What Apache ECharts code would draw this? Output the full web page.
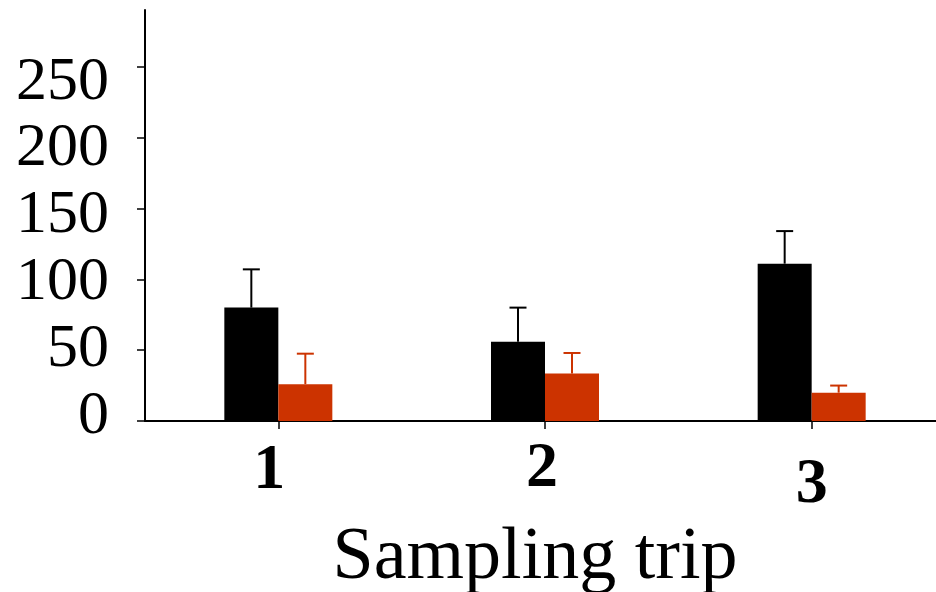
<!DOCTYPE html>
<html>
<head>
<meta charset="utf-8">
<script src="https://cdn.jsdelivr.net/npm/echarts@6/dist/echarts.min.js"></script>
<style>
html,body{margin:0;padding:0;background:#fff;}
#chart{width:936px;height:592px;}
</style>
</head>
<body>
<div id="chart"></div>
<script>
var categories = ['1', '2', '3'];
var blackMeans = [80, 56, 111];
var blackErrors = [27, 24, 23];
var redMeans = [26, 33.5, 20];
var redErrors = [21.5, 14.5, 5];
var yTickValues = [0, 50, 100, 150, 200, 250];
var xAxisTitle = 'Sampling trip';

var BLACK = '#000000';
var RED = '#CC3300';
var FONT = '"Liberation Serif", "Times New Roman", serif';
var BAR_W = 54;

// small per-label nudges to follow the hand-placed labels of the original
var yLabelPad = {
  y0: [0, 0, 9, 0], y1: [0, 0, 1, 0], y2: [7, 0, 0, 0],
  y3: [15, 0, 0, 0], y4: [23, 0, 0, 0], y5: [32, 0, 0, 0]
};
var xLabelPad = { x0: [2, 18, 0, 0], x1: [0, 6, 0, 0], x2: [16, 0, 0, 0] };

var yRich = {};
Object.keys(yLabelPad).forEach(function (k) {
  yRich[k] = { fontFamily: FONT, fontSize: 62, color: '#000', padding: yLabelPad[k] };
});
var xRich = {};
Object.keys(xLabelPad).forEach(function (k) {
  xRich[k] = { fontFamily: FONT, fontSize: 64, fontWeight: 'bold', color: '#000', padding: xLabelPad[k] };
});

function errorSeries(means, errs, color, dx) {
  return {
    type: 'custom',
    z: 5,
    data: means.map(function (m, i) { return [i, m, m + errs[i]]; }),
    renderItem: function (params, api) {
      var lo = api.coord([api.value(0), api.value(1)]);
      var hi = api.coord([api.value(0), api.value(2)]);
      var x = lo[0] + dx;
      var cap = 8.5;
      return {
        type: 'group',
        children: [
          { type: 'line', shape: { x1: x, y1: lo[1], x2: x, y2: hi[1] },
            style: { stroke: color, lineWidth: 2 } },
          { type: 'line', shape: { x1: x - cap, y1: hi[1], x2: x + cap, y2: hi[1] },
            style: { stroke: color, lineWidth: 2 } }
        ]
      };
    }
  };
}

var chart = echarts.init(document.getElementById('chart'));
chart.setOption({
  animation: false,
  backgroundColor: '#fff',
  grid: { left: 145, top: 10, width: 800, bottom: 171, containLabel: false, outerBoundsMode: 'none' },
  xAxis: {
    type: 'category',
    data: categories,
    boundaryGap: true,
    axisLine: { show: true, lineStyle: { color: '#000', width: 2 } },
    axisTick: { show: true, alignWithLabel: true, length: 8, lineStyle: { color: '#000', width: 1.5 } },
    axisLabel: {
      margin: 16,
      formatter: function (v, i) { return '{x' + i + '|' + v + '}'; },
      rich: xRich
    },
    name: xAxisTitle,
    nameLocation: 'middle',
    nameGap: 94,
    nameTextStyle: { fontFamily: FONT, fontSize: 74, color: '#000', padding: [0, 20, 0, 0] },
    splitLine: { show: false }
  },
  yAxis: {
    type: 'value',
    min: 0,
    max: 290,
    interval: 50,
    axisLine: { show: true, lineStyle: { color: '#000', width: 2 } },
    axisTick: { show: true, length: 8, customValues: yTickValues, lineStyle: { color: '#000', width: 1.5 } },
    axisLabel: {
      margin: 36,
      customValues: yTickValues,
      formatter: function (v) {
        var idx = yTickValues.indexOf(v);
        if (idx < 0) return '';
        return '{y' + idx + '|' + v + '}';
      },
      rich: yRich
    },
    splitLine: { show: false }
  },
  series: [
    { type: 'bar', data: blackMeans, barWidth: BAR_W, barGap: '0%',
      itemStyle: { color: BLACK } },
    { type: 'bar', data: redMeans, barWidth: BAR_W, barGap: '0%',
      itemStyle: { color: RED } },
    errorSeries(blackMeans, blackErrors, BLACK, -BAR_W / 2),
    errorSeries(redMeans, redErrors, RED, BAR_W / 2)
  ]
});
</script>
</body>
</html>
